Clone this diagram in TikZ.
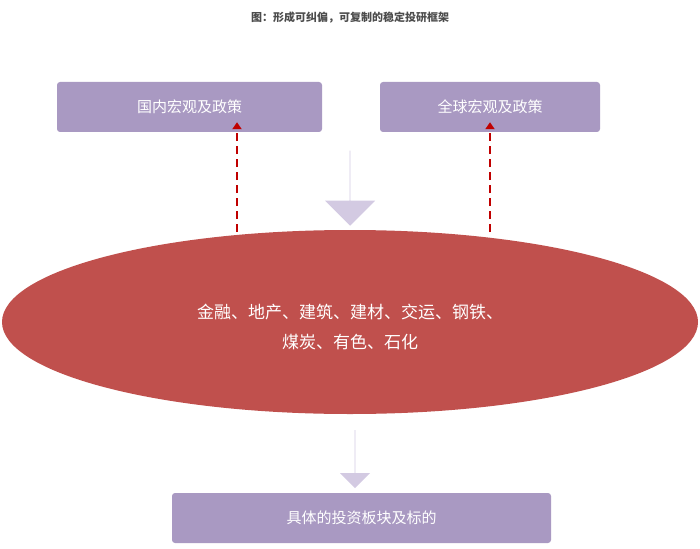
\documentclass[tikz,border=0pt]{standalone}
\usepackage{fontspec}
\setmainfont{Noto Sans CJK SC}
\usetikzlibrary{shapes.arrows,shapes.geometric,arrows.meta}
\definecolor{lav}{HTML}{A999C2}
\definecolor{lavlight}{HTML}{D3CAE2}
\definecolor{brick}{HTML}{C0504D}
\definecolor{dashred}{HTML}{C00000}
\tikzset{
  policybox/.style={fill=lav, rounded corners=3pt, text=white, font=\fontsize{15}{18}\selectfont},
  downarrow/.style={single arrow, fill=lavlight, rotate=-90, inner sep=0pt, anchor=center},
  feedback/.style={dashred, line width=2.2pt, dash pattern=on 8pt off 5pt, -{Triangle[width=9pt,length=7pt]}}
}
\begin{document}
\begin{tikzpicture}[x=1pt,y=-1pt]
\useasboundingbox (0,0) rectangle (700,548);
\node (title) at (350,18) {\fontsize{11}{13}\selectfont\bfseries\color{black!70}图：形成可纠偏，可复制的稳定投研框架};
\node[policybox, minimum width=265pt, minimum height=50pt] (home) at (189.5,107) {国内宏观及政策};
\node[policybox, minimum width=220pt, minimum height=50pt] (world) at (490,107) {全球宏观及政策};
\node[ellipse, fill=brick, minimum width=696pt, minimum height=184pt, inner sep=0pt] (sectors) at (350,322) {};
\node[text=white, align=center, font=\fontsize{17}{30}\selectfont] (names) at (350,327)
  {金融、地产、建筑、建材、交运、钢铁、\\煤炭、有色、石化};
\node[policybox, minimum width=379pt, minimum height=50pt] (targets) at (361.5,518) {具体的投资板块及标的};
\node[downarrow, minimum width=50pt, minimum height=75pt, single arrow head extend=10pt] (push) at (350,188) {};
\node[downarrow, minimum width=30pt, minimum height=58pt, single arrow head extend=8pt] (pull) at (355,459) {};
\coordinate (homefoot) at (237,232);
\coordinate (worldfoot) at (490,232);
\draw[feedback] (homefoot) -- ([yshift=10pt]home.south -| homefoot);
\draw[feedback] (worldfoot) -- ([yshift=10pt]world.south -| worldfoot);
\end{tikzpicture}
\end{document}
